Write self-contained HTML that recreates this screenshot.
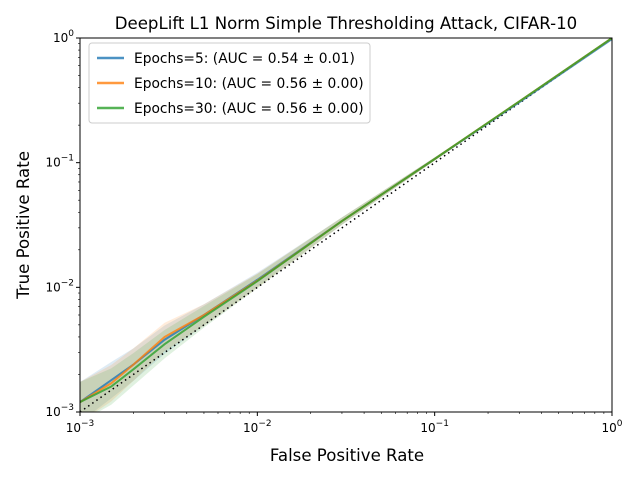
<!DOCTYPE html>
<html><head><meta charset="utf-8"><style>body{margin:0;background:#fff}svg{font-family:"DejaVu Sans","Liberation Sans",sans-serif}</style></head>
<body>
<svg id="chart" width="640" height="480" viewBox="0 0 640 480">
<rect width="640" height="480" fill="#fff"/>
<text x="346" y="29" font-size="16.6" text-anchor="middle">DeepLift L1 Norm Simple Thresholding Attack, CIFAR-10</text>
<g id="bands"></g><g id="lines"></g>
<rect x="80" y="38" width="532" height="374" fill="none" stroke="#000" stroke-width="1"/>
<g id="ticks"></g>
<text x="347" y="461" font-size="16.6" text-anchor="middle">False Positive Rate</text>
<text transform="translate(29,225) rotate(-90)" font-size="16.6" text-anchor="middle">True Positive Rate</text>
<g>
<rect x="89" y="43" width="281" height="80" rx="3" fill="#fff" fill-opacity="0.85" stroke="#ccc"/>
<line x1="97" y1="58" x2="124" y2="58" stroke="#1f77b4" stroke-opacity="0.8" stroke-width="2.5"/>
<text x="134" y="63" font-size="13.8">Epochs=5: (AUC = 0.54 ± 0.01)</text>
<line x1="97" y1="83" x2="124" y2="83" stroke="#ff7f0e" stroke-opacity="0.8" stroke-width="2.5"/>
<text x="134" y="88" font-size="13.8">Epochs=10: (AUC = 0.56 ± 0.00)</text>
<line x1="97" y1="108" x2="124" y2="108" stroke="#2ca02c" stroke-opacity="0.8" stroke-width="2.5"/>
<text x="134" y="113" font-size="13.8">Epochs=30: (AUC = 0.56 ± 0.00)</text>
</g>
</svg>
<script>
const fpr = [0.001,0.0015,0.002,0.003,0.005,0.01,0.03,0.1,0.3,1];
const tpr5 = [0.0012,0.0018,0.0024,0.0038,0.006,0.0115,0.034,0.107,0.305,0.98];
const tpr10 = [0.0012,0.0017,0.0024,0.004,0.006,0.0113,0.034,0.107,0.31,1];
const tpr30 = [0.0012,0.0016,0.0022,0.0035,0.0058,0.0112,0.034,0.107,0.31,1];
const bandWidth = [0.45,0.4,0.35,0.3,0.22,0.14,0.07,0.03,0.015,0.01];
const xTicks = [0.001,0.01,0.1,1];
const xTickLabels = ["10","10","10","10"];
const tickExps = ["−3","−2","−1","0"];
const colors = ["#1f77b4","#ff7f0e","#2ca02c"];
const seriesNames = ["epochs-5","epochs-10","epochs-30"];
const X0=80,X1=612,Y0=412,Y1=38;
const xs=v=>X0+(Math.log10(v)+3)/3*(X1-X0);
const ys=v=>Y0-(Math.log10(v)+3)/3*(Y0-Y1);
const NS="http://www.w3.org/2000/svg";
const mk=(t,a)=>{const e=document.createElementNS(NS,t);for(const k in a)e.setAttribute(k,a[k]);return e;};
const defs=mk('clipPath',{id:'clip'});defs.appendChild(mk('rect',{x:X0,y:Y1,width:X1-X0,height:Y0-Y1}));
document.getElementById('chart').appendChild(defs);
const bands=document.getElementById('bands'),lines=document.getElementById('lines');
bands.setAttribute('clip-path','url(#clip)');lines.setAttribute('clip-path','url(#clip)');
[tpr5,tpr10,tpr30].forEach((s,i)=>{
  let up=fpr.map((f,j)=>xs(f)+','+ys(s[j]*(1+bandWidth[j])));
  let lo=fpr.map((f,j)=>xs(f)+','+ys(s[j]/(1+bandWidth[j]))).reverse();
  const p=mk('polygon',{points:up.concat(lo).join(' '),fill:colors[i],'fill-opacity':0.15});
  
  
  bands.appendChild(p);
});
const diag=mk('line',{x1:xs(0.001),y1:ys(0.001),x2:xs(1),y2:ys(1),stroke:'#000','stroke-width':1.5,'stroke-dasharray':'1.5,3.5'});


lines.appendChild(diag);
[tpr5,tpr10,tpr30].forEach((s,i)=>{
  const l=mk('polyline',{points:fpr.map((f,j)=>xs(f)+','+ys(s[j])).join(' '),fill:'none',stroke:colors[i],'stroke-opacity':0.8,'stroke-width':2});
  
  
  lines.appendChild(l);
});
const tk=document.getElementById('ticks');
xTicks.forEach((v,i)=>{
  const x=xs(v),y=ys(v);
  tk.appendChild(mk('line',{x1:x,y1:Y0,x2:x,y2:Y0+4,stroke:'#000'}));
  tk.appendChild(mk('line',{x1:X0,y1:y,x2:X0-4,y2:y,stroke:'#000'}));
  const tx=mk('text',{x:x,y:Y0+20,'font-size':12,'text-anchor':'middle'});
  tx.innerHTML=xTickLabels[i]+'<tspan dy="-6" font-size="9">'+tickExps[i]+'</tspan>';
  
  
  tk.appendChild(tx);
  const ty=mk('text',{x:X0-6,y:y+4,'font-size':12,'text-anchor':'end'});
  ty.innerHTML=xTickLabels[i]+'<tspan dy="-6" font-size="9">'+tickExps[i]+'</tspan>';
  
  
  tk.appendChild(ty);
  if(i<3)for(let m=2;m<10;m++){
    const mx=xs(v*m),my=ys(v*m);
    tk.appendChild(mk('line',{x1:mx,y1:Y0,x2:mx,y2:Y0+2,stroke:'#000','stroke-width':0.6}));
    tk.appendChild(mk('line',{x1:X0,y1:my,x2:X0-2,y2:my,stroke:'#000','stroke-width':0.6}));
  }
});
</script>
</body></html>
